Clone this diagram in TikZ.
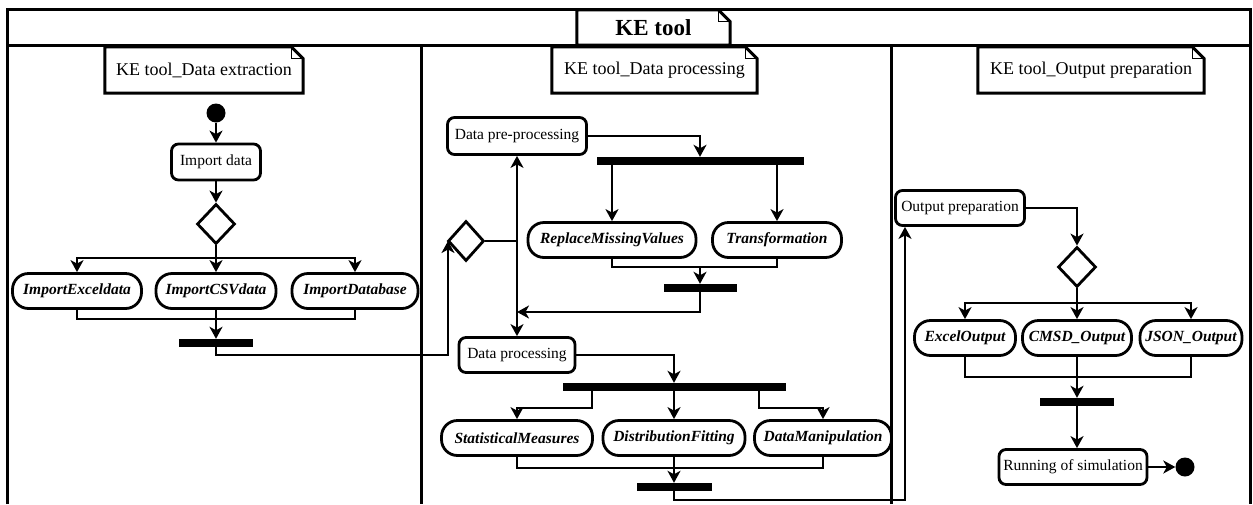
\documentclass[tikz,border=0pt]{standalone}
\usepackage{fontspec}
\setmainfont{Liberation Serif}
\usetikzlibrary{arrows.meta,shapes.geometric}

\tikzset{
  frame/.style={line width=3pt},
  act/.style={draw, line width=2.8pt, rounded corners=7pt, minimum height=35pt, inner sep=2pt, font=\fontsize{15.5}{17}\selectfont},
  callact/.style={act, rounded corners=16pt, font=\fontsize{15.5}{17}\selectfont\bfseries\itshape},
  bar/.style={fill=black, minimum height=8pt, inner sep=0pt},
  decision/.style={draw, diamond, line width=2.8pt, minimum width=38pt, minimum height=40pt, inner sep=0pt},
  dot/.style={circle, fill=black, minimum size=19pt, inner sep=0pt},
  notebox/.style={minimum height=46pt, inner sep=2pt, font=\fontsize{18}{20}\selectfont},
  flow/.style={line width=2.6pt, -{Stealth[length=12pt,width=13pt,inset=3.5pt]}},
  link/.style={line width=2.6pt},
}

\begin{document}
\begin{tikzpicture}[x=1pt,y=-1pt]
  \useasboundingbox (0,0) rectangle (1253,504);

  % frame and lanes
  \draw[frame] (7,504) -- (7,9) -- (1250,9) -- (1250,504);
  \draw[frame] (7,45) -- (1250,45);
  \draw[frame] (421,45) -- (421,504);
  \draw[frame] (891,45) -- (891,504);

  % title + lane notes
  \node[notebox, font=\fontsize{23}{26}\selectfont\bfseries, minimum width=153pt, minimum height=35pt] (title) at (653.5,27.5) {KE tool};
  \node[notebox, minimum width=198pt] (laneA) at (204,70) {KE tool\_Data extraction};
  \node[notebox, minimum width=205pt] (laneB) at (654.5,70) {KE tool\_Data processing};
  \node[notebox, minimum width=226pt] (laneC) at (1091,70) {KE tool\_Output preparation};
  \foreach \n in {title,laneA,laneB,laneC} {
    \draw[frame] (\n.south west) -- (\n.north west) -- ([xshift=-12pt]\n.north east)
      -- ([yshift=-12pt]\n.north east) -- (\n.south east) -- cycle;
    \draw[line width=1.2pt] ([xshift=-12pt]\n.north east) |- ([yshift=-12pt]\n.north east);
  }

  % data extraction
  \node[dot] (start) at (216,113) {};
  \node[act, minimum width=89pt, minimum height=36pt] (imp) at (216,162) {Import data};
  \node[decision] (dec1) at (216,224) {};
  \node[callact, minimum width=129pt] (iexcel) at (77,291) {ImportExceldata};
  \node[callact, minimum width=120pt] (icsv) at (216,291) {ImportCSVdata};
  \node[callact, minimum width=126pt] (idb) at (355,291) {ImportDatabase};
  \node[bar, minimum width=74pt] (join1) at (216,343) {};

  % data processing
  \node[decision, minimum width=36pt] (dec2) at (466,241) {};
  \node[act, minimum width=139pt, minimum height=37pt] (pre) at (517,136) {Data pre-processing};
  \node[bar, minimum width=207pt] (fork2) at (700,161) {};
  \node[callact, minimum width=168pt] (rmv) at (612,240) {ReplaceMissingValues};
  \node[callact, minimum width=129pt] (trf) at (777,240) {Transformation};
  \node[bar, minimum width=73pt] (join2) at (700,288) {};
  \node[act, minimum width=116pt] (proc) at (517,355) {Data processing};
  \node[bar, minimum width=223pt] (fork3) at (674,387) {};
  \node[callact, minimum width=151pt] (stat) at (517,438) {StatisticalMeasures};
  \node[callact, minimum width=142pt] (dist) at (674,438) {DistributionFitting};
  \node[callact, minimum width=137pt] (manip) at (823,438) {DataManipulation};
  \node[bar, minimum width=75pt] (join3) at (674,487) {};

  % output preparation
  \node[act, minimum width=129pt] (outp) at (960,208) {Output preparation};
  \node[decision] (dec3) at (1077,267) {};
  \node[callact, minimum width=101pt] (oexcel) at (965,338) {ExcelOutput};
  \node[callact, minimum width=109pt] (ocmsd) at (1077,338) {CMSD\_Output};
  \node[callact, minimum width=102pt] (ojson) at (1191,338) {JSON\_Output};
  \node[bar, minimum width=74pt] (join4) at (1077,402) {};
  \node[act, minimum width=148pt] (run) at (1073,467) {Running of simulation};
  \node[dot] (stop) at (1185,467) {};

  % bends
  \coordinate (br1) at (216,258);
  \coordinate (mg1) at (216,319);
  \coordinate (c1)  at (448,355);
  \coordinate (j2)  at (517,241);
  \coordinate (mg2) at (700,267);
  \coordinate (j3)  at (517,312);
  \coordinate (k1)  at (592,408);
  \coordinate (k2)  at (759,408);
  \coordinate (mg3) at (674,468);
  \coordinate (c2)  at (905,500);
  \coordinate (br3) at (1077,303);
  \coordinate (mg4) at (1077,377);

  % flows, left lane
  \draw[flow] (start) -- (imp);
  \draw[flow] (imp) -- (dec1);
  \draw[link] (dec1.south) -- (br1);
  \draw[flow] (br1) -| (iexcel.north);
  \draw[flow] (br1) -- (icsv.north);
  \draw[flow] (br1) -| (idb.north);
  \draw[link] (iexcel.south) |- (mg1) -| (idb.south);
  \draw[flow] (icsv.south) -- (join1.north);
  \draw[flow] (join1.south) |- (c1) -- (c1 |- dec2.west);

  % flows, middle lane
  \draw[link] (dec2.east) -- (j2);
  \draw[flow] (j2) -- (pre.south);
  \draw[flow] (j2) -- (proc.north);
  \draw[flow] (pre.east) -| (fork2.north);
  \draw[flow] (fork2.south -| rmv.north) -- (rmv.north);
  \draw[flow] (fork2.south -| trf.north) -- (trf.north);
  \draw[link] (rmv.south) |- (mg2) -| (trf.south);
  \draw[flow] (mg2) -- (join2.north);
  \draw[flow] (join2.south) |- (j3);
  \draw[flow] (proc.east) -| (fork3.north);
  \draw[flow] (fork3.south -| k1) -- (k1) -| (stat.north);
  \draw[flow] (fork3.south) -- (dist.north);
  \draw[flow] (fork3.south -| k2) -- (k2) -| (manip.north);
  \draw[link] (stat.south) |- (mg3) -| (manip.south);
  \draw[flow] (dist.south) -- (join3.north);
  \draw[flow] (join3.south) |- (c2) -- (c2 |- outp.south);

  % flows, right lane
  \draw[flow] (outp.east) -| (dec3.north);
  \draw[link] (dec3.south) -- (br3);
  \draw[flow] (br3) -| (oexcel.north);
  \draw[flow] (br3) -- (ocmsd.north);
  \draw[flow] (br3) -| (ojson.north);
  \draw[link] (oexcel.south) |- (mg4) -| (ojson.south);
  \draw[flow] (ocmsd.south) -- (join4.north);
  \draw[flow] (join4.south) -- (join4.south |- run.north);
  \draw[flow] (run.east) -- (stop);
\end{tikzpicture}
\end{document}
